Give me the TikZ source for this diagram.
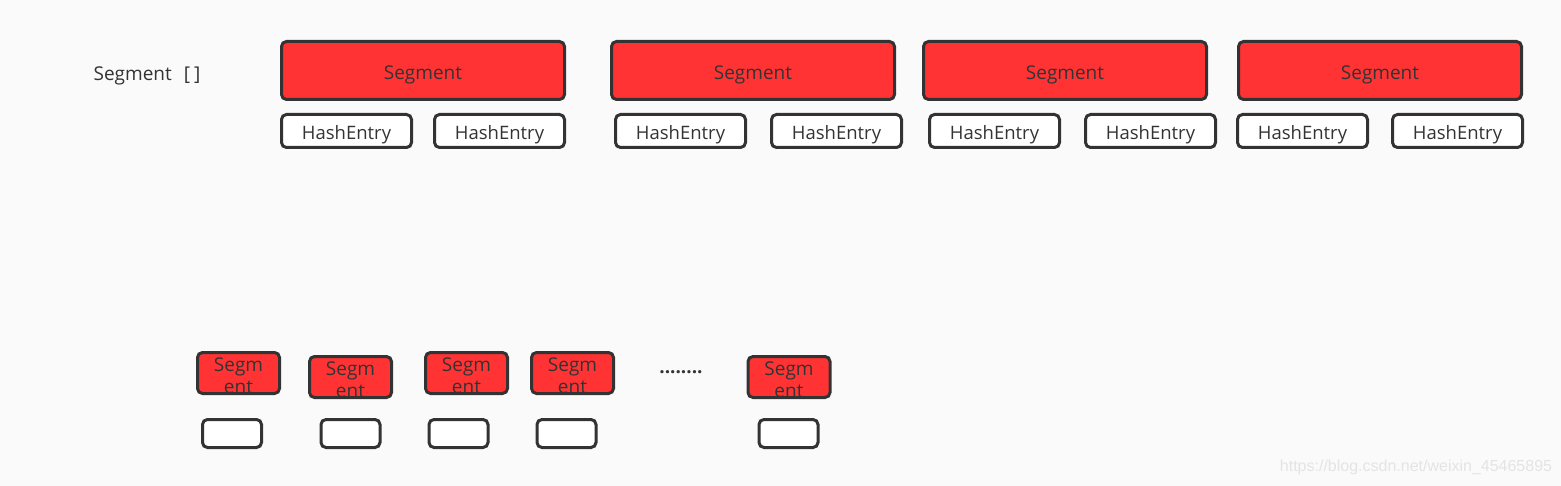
\documentclass[tikz,border=0pt]{standalone}
\usepackage{fontspec}
\setmainfont{Open Sans}
\newfontfamily\markfont{Liberation Sans}
\usetikzlibrary{calc}
\definecolor{segred}{HTML}{FF3333}
\definecolor{edge}{HTML}{333333}
\definecolor{bg}{HTML}{FAFAFA}
\definecolor{markgray}{HTML}{E4E4E4}

\begin{document}
\begin{tikzpicture}[x=1pt,y=-1pt,
        boxbase/.style={draw=edge, line width=3pt, rounded corners=5pt, inner sep=0pt, text=edge,
            text height=18pt, text depth=0.5pt, font=\fontsize{19}{22}\selectfont},
        segbox/.style={boxbase, fill=segred, minimum width=283pt, minimum height=58pt},
        entrybox/.style={boxbase, fill=white, minimum width=130pt, minimum height=33pt},
        smallseg/.style={boxbase, fill=segred, minimum width=82pt, minimum height=41pt},
        smallentry/.style={boxbase, fill=white, minimum width=59pt, minimum height=28pt},
        segtext/.style={text=edge, align=center, inner sep=0pt, font=\fontsize{19}{22}\selectfont}]
            \fill[bg] (0,0) rectangle (1561,486);

            % the array
            \node[segtext] (arr) at (147,76) {Segment\hspace{12pt}[\hspace{4pt}]};

            \node[segbox] (seg1) at (423,70.5) {Segment};
            \node[segbox] (seg2) at (753,70.5) {Segment};
            \node[segbox] (seg3) at (1065,70.5) {Segment};
            \node[segbox] (seg4) at (1380,70.5) {Segment};

            \node[entrybox, font=\fontsize{18.5}{22}\selectfont] (he1) at (346.5,131) {HashEntry};
            \node[entrybox, font=\fontsize{18.5}{22}\selectfont] (he2) at (499.5,131) {HashEntry};
            \node[entrybox, font=\fontsize{18.5}{22}\selectfont] (he3) at (680.5,131) {HashEntry};
            \node[entrybox, font=\fontsize{18.5}{22}\selectfont] (he4) at (836.5,131) {HashEntry};
            \node[entrybox, font=\fontsize{18.5}{22}\selectfont] (he5) at (994.5,131) {HashEntry};
            \node[entrybox, font=\fontsize{18.5}{22}\selectfont] (he6) at (1150.5,131) {HashEntry};
            \node[entrybox, font=\fontsize{18.5}{22}\selectfont] (he7) at (1302.5,131) {HashEntry};
            \node[entrybox, font=\fontsize{18.5}{22}\selectfont] (he8) at (1457.5,131) {HashEntry};

            % small ones below
            \node[smallseg] (ss1) at (238.5,373) {};
            \node[smallseg] (ss2) at (350.5,377) {};
            \node[smallseg] (ss3) at (466.5,373) {};
            \node[smallseg] (ss4) at (572.5,373) {};
            \node[smallseg] (ss5) at (789,377) {};
            \node[segtext] (st1) at ($(ss1)+(0,3)$) {Segm\\ent};
            \node[segtext] (st2) at ($(ss2)+(0,3)$) {Segm\\ent};
            \node[segtext] (st3) at ($(ss3)+(0,3)$) {Segm\\ent};
            \node[segtext] (st4) at ($(ss4)+(0,3)$) {Segm\\ent};
            \node[segtext] (st5) at ($(ss5)+(0,3)$) {Segm\\ent};

            \node[smallentry] (se1) at (232,433.5) {};
            \node[smallentry] (se2) at (350.5,433.5) {};
            \node[smallentry] (se3) at (458.5,433.5) {};
            \node[smallentry] (se4) at (566.5,433.5) {};
            \node[smallentry] (se5) at (788.5,433.5) {};

            \node[segtext, anchor=base, font=\fontsize{19}{22}\selectfont\bfseries] (dots) at (681,373) {........};

            \node[text=markgray, inner sep=0pt, font=\markfont\fontsize{16}{18}\selectfont] (wm) at (1416,467) {https://blog.csdn.net/weixin\_45465895};
        \end{tikzpicture}
\end{document}
